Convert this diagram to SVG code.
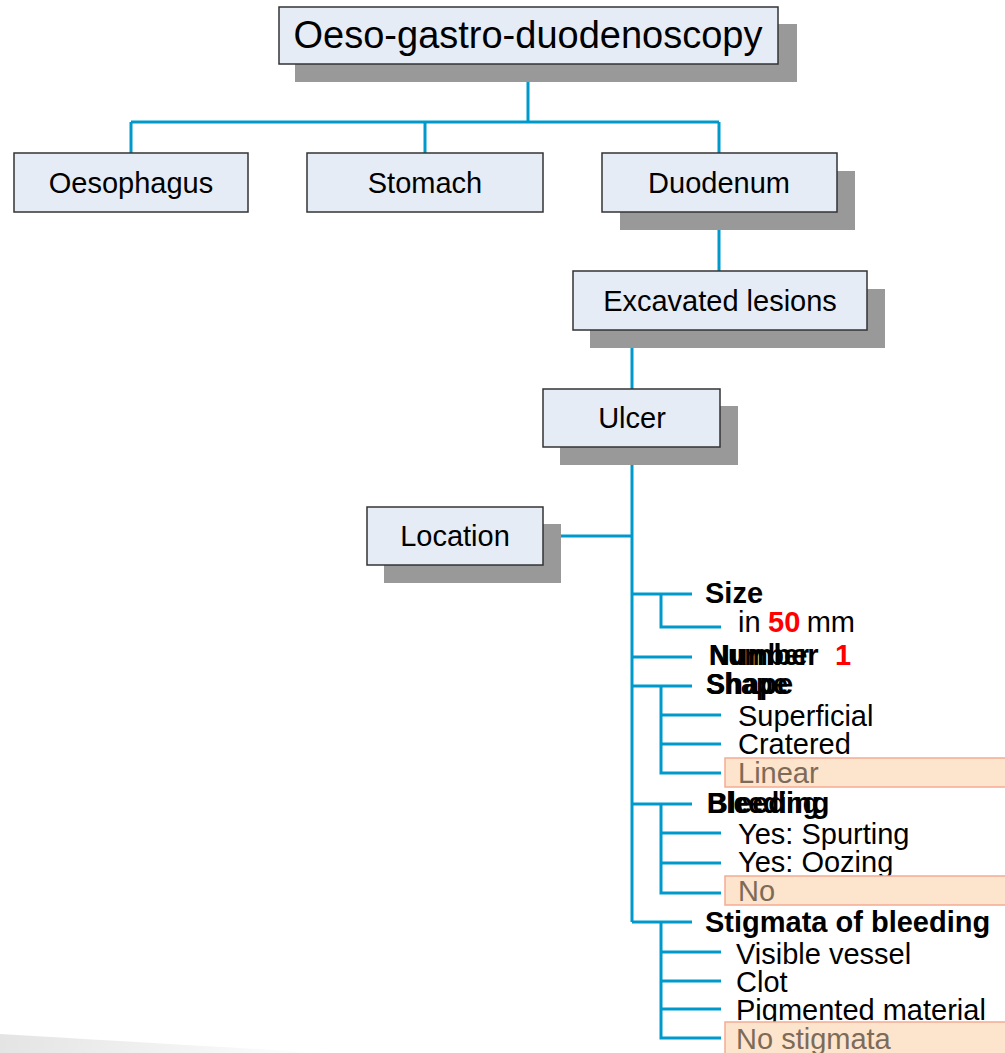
<svg xmlns="http://www.w3.org/2000/svg" width="1005" height="1053" viewBox="0 0 1005 1053">
<defs>
<style>
.box{fill:#e6ecf6;stroke:#333333;stroke-width:1.5}
.sh{fill:#999999}
.bt{font-family:"Liberation Sans",Arial,sans-serif;font-size:29px;fill:#000;text-anchor:middle}
.ttl{font-family:"Liberation Sans",Arial,sans-serif;font-size:38px;fill:#000;text-anchor:middle}
.c{fill:none;stroke:#0099cc;stroke-width:3}
.lt{font-family:"Liberation Sans",Arial,sans-serif;font-size:29px;fill:#000}
.lb{font-family:"Liberation Sans",Arial,sans-serif;font-size:29px;font-weight:bold;fill:#000}
.red{font-family:"Liberation Sans",Arial,sans-serif;font-size:29px;font-weight:bold;fill:#ff0000}
.hl{fill:#fde4cc;stroke:#f4ab94;stroke-width:1.5}
.ht{font-family:"Liberation Sans",Arial,sans-serif;font-size:29px;fill:#7d6b59}
</style>
<linearGradient id="sw" x1="0" y1="0" x2="1" y2="0">
<stop offset="0" stop-color="#e4e4e4"/>
<stop offset="1" stop-color="#ffffff"/>
</linearGradient>
</defs>
<rect width="1005" height="1053" fill="#ffffff"/>
<path d="M0,1034 C100,1040 220,1047 330,1053 L0,1053 Z" fill="url(#sw)"/>

<g id="connectors">
<path class="c" d="M528,64 V122 M131,122 H719 M131,122 V153 M425,122 V153 M719,122 V153"/>
<path class="c" d="M719,212 V271"/>
<path class="c" d="M632,330 V389"/>
<path class="c" d="M632,447 V922 M543,536 H632"/>
<path class="c" d="M632,594 H692 M661,594 V627 H721"/>
<path class="c" d="M632,657 H692"/>
<path class="c" d="M632,686 H692 M661,686 V773 H721 M661,715 H721 M661,744 H721"/>
<path class="c" d="M632,804 H692 M661,804 V893 H721 M661,833 H721 M661,863 H721"/>
<path class="c" d="M632,922 H692 M661,922 V1038 H721 M661,952 H721 M661,981 H721 M661,1009 H721"/>
</g>

<g id="node-ogd">
<rect class="sh" x="295" y="24" width="502" height="58"/>
<rect class="box" x="279" y="7" width="499" height="57"/>
<text class="ttl" x="528" y="48">Oeso-gastro-duodenoscopy</text>
</g>
<g id="node-oesophagus">
<rect class="box" x="14" y="153" width="234" height="59"/>
<text class="bt" x="131" y="193">Oesophagus</text>
</g>
<g id="node-stomach">
<rect class="box" x="307" y="153" width="236" height="59"/>
<text class="bt" x="425" y="193">Stomach</text>
</g>
<g id="node-duodenum">
<rect class="sh" x="620" y="171" width="235" height="59"/>
<rect class="box" x="602" y="153" width="235" height="59"/>
<text class="bt" x="719" y="193">Duodenum</text>
</g>
<g id="node-excavated">
<rect class="sh" x="590" y="289" width="295" height="59"/>
<rect class="box" x="573" y="271" width="294" height="59"/>
<text class="bt" x="720" y="311">Excavated lesions</text>
</g>
<g id="node-ulcer">
<rect class="sh" x="560" y="406" width="178" height="59"/>
<rect class="box" x="543" y="389" width="177" height="58"/>
<text class="bt" x="632" y="428">Ulcer</text>
</g>
<g id="node-location">
<rect class="sh" x="384" y="524" width="177" height="59"/>
<rect class="box" x="367" y="507" width="176" height="58"/>
<text class="bt" x="455" y="546">Location</text>
</g>

<g id="node-size">
<text class="lb" x="705" y="603">Size</text>
<text class="lt" x="738" y="632">in <tspan dx="38">mm</tspan></text>
<text class="red" x="768" y="632">50</text>
</g>
<g id="node-number">
<text class="lb" x="709" y="665">Number</text>
<text class="lb" x="709" y="665" textLength="100" lengthAdjust="spacingAndGlyphs">Number</text>
<text class="red" x="835" y="665">1</text>
</g>
<g id="node-shape">
<text class="lb" x="706" y="694">Shape</text>
<text class="lb" x="706" y="694" textLength="82" lengthAdjust="spacingAndGlyphs">Shape</text>
<text class="lt" x="738" y="726">Superficial</text>
<text class="lt" x="738" y="754">Cratered</text>
<rect class="hl" x="725" y="758" width="285" height="29"/>
<text class="ht" x="738" y="783">Linear</text>
</g>
<g id="node-bleeding">
<text class="lb" x="707" y="813">Bleeding</text>
<text class="lb" x="707" y="813" textLength="112" lengthAdjust="spacingAndGlyphs">Bleeding</text>
<text class="lt" x="738" y="844">Yes: Spurting</text>
<text class="lt" x="738" y="872">Yes: Oozing</text>
<rect class="hl" x="725" y="876" width="285" height="29"/>
<text class="ht" x="738" y="901">No</text>
</g>
<g id="node-stigmata">
<text class="lb" x="705" y="932">Stigmata of bleeding</text>
<text class="lt" x="736" y="964">Visible vessel</text>
<text class="lt" x="736" y="992">Clot</text>
<text class="lt" x="736" y="1020">Pigmented material</text>
<rect class="hl" x="725" y="1022" width="285" height="40"/>
<text class="ht" x="736" y="1049">No stigmata</text>
</g>
</svg>
